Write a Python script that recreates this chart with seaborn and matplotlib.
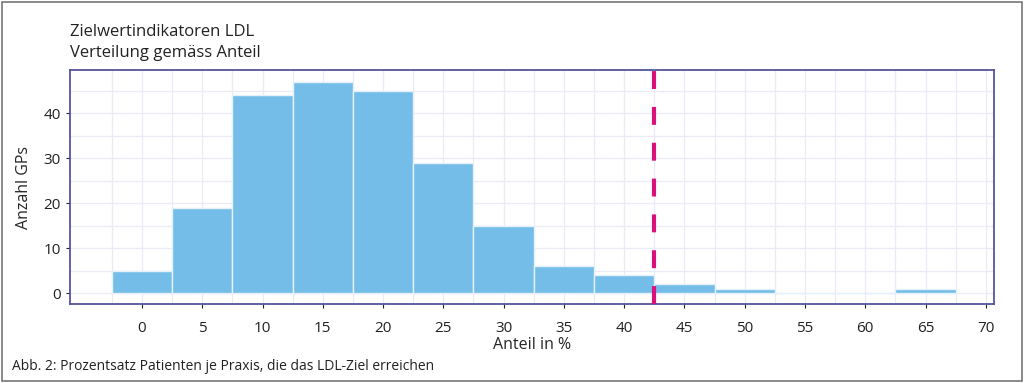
import numpy as np
import pandas as pd
import seaborn as sns
import matplotlib.pyplot as plt
from matplotlib.patches import Rectangle

# Anteil (Bin-Mitte in %) und Anzahl GPs
anteil = [0, 5, 10, 15, 20, 25, 30, 35, 40, 45, 50, 55, 60, 65]
anzahl = [5, 19, 44, 47, 45, 29, 15, 6, 4, 2, 1, 0, 0, 1]
ziel = 42.5
xticks = [0, 5, 10, 15, 20, 25, 30, 35, 40, 45, 50, 55, 60, 65, 70]
yticks = [0, 10, 20, 30, 40]

sns.set_style('white')
plt.rcParams['font.family'] = ['Open Sans', 'DejaVu Sans']

df = pd.DataFrame({'anteil': anteil, 'anzahl': anzahl})

fig = plt.figure(figsize=(10.24, 3.83), dpi=100)
ax = fig.add_axes([0.068, 0.206, 0.903, 0.611])

sns.histplot(data=df, x='anteil', weights='anzahl', binwidth=5, binrange=(-2.5, 67.5),
             color='#74bde8', alpha=1, edgecolor='#e4f1fa', linewidth=1.0, ax=ax, zorder=2)

ax.axvline(ziel, color='#d8127a', lw=3, ls=(0, (4.3, 4.3)), zorder=3)

ax.set_xlim(-6, 70.7)
ax.set_ylim(-2.4, 49.6)
ax.set_xticks(xticks)
ax.set_yticks(yticks)
ax.set_xticks(np.arange(-2.5, 70, 5), minor=True)
ax.set_yticks([5, 15, 25, 35, 45], minor=True)
ax.grid(True, which='both', color='#ebebf8', lw=0.9, zorder=0)
ax.set_axisbelow(True)
ax.tick_params(axis='both', which='major', labelsize=11, colors='#222222',
               length=3, direction='out', bottom=True, left=True)
ax.tick_params(axis='both', which='minor', length=0)
ax.tick_params(axis='x', pad=9)
for s in ax.spines.values():
    s.set_color('#55559a')
    s.set_linewidth(1.3)

ax.set_xlabel('Anteil in %', fontsize=11.5, labelpad=1)
ax.set_ylabel('Anzahl GPs', fontsize=11.5, labelpad=8)

fig.text(0.068, 0.905, 'Zielwertindikatoren LDL', fontsize=12, color='#222222')
fig.text(0.068, 0.852, 'Verteilung gemäss Anteil', fontsize=12, color='#222222')
fig.text(0.012, 0.035, 'Abb. 2: Prozentsatz Patienten je Praxis, die das LDL-Ziel erreichen',
         fontsize=10, color='#222222')

fig.patches.append(Rectangle((0.002, 0.004), 0.996, 0.99, transform=fig.transFigure,
                             fill=False, edgecolor='#777777', lw=1.2))

fig.savefig('out.png', dpi=100)
